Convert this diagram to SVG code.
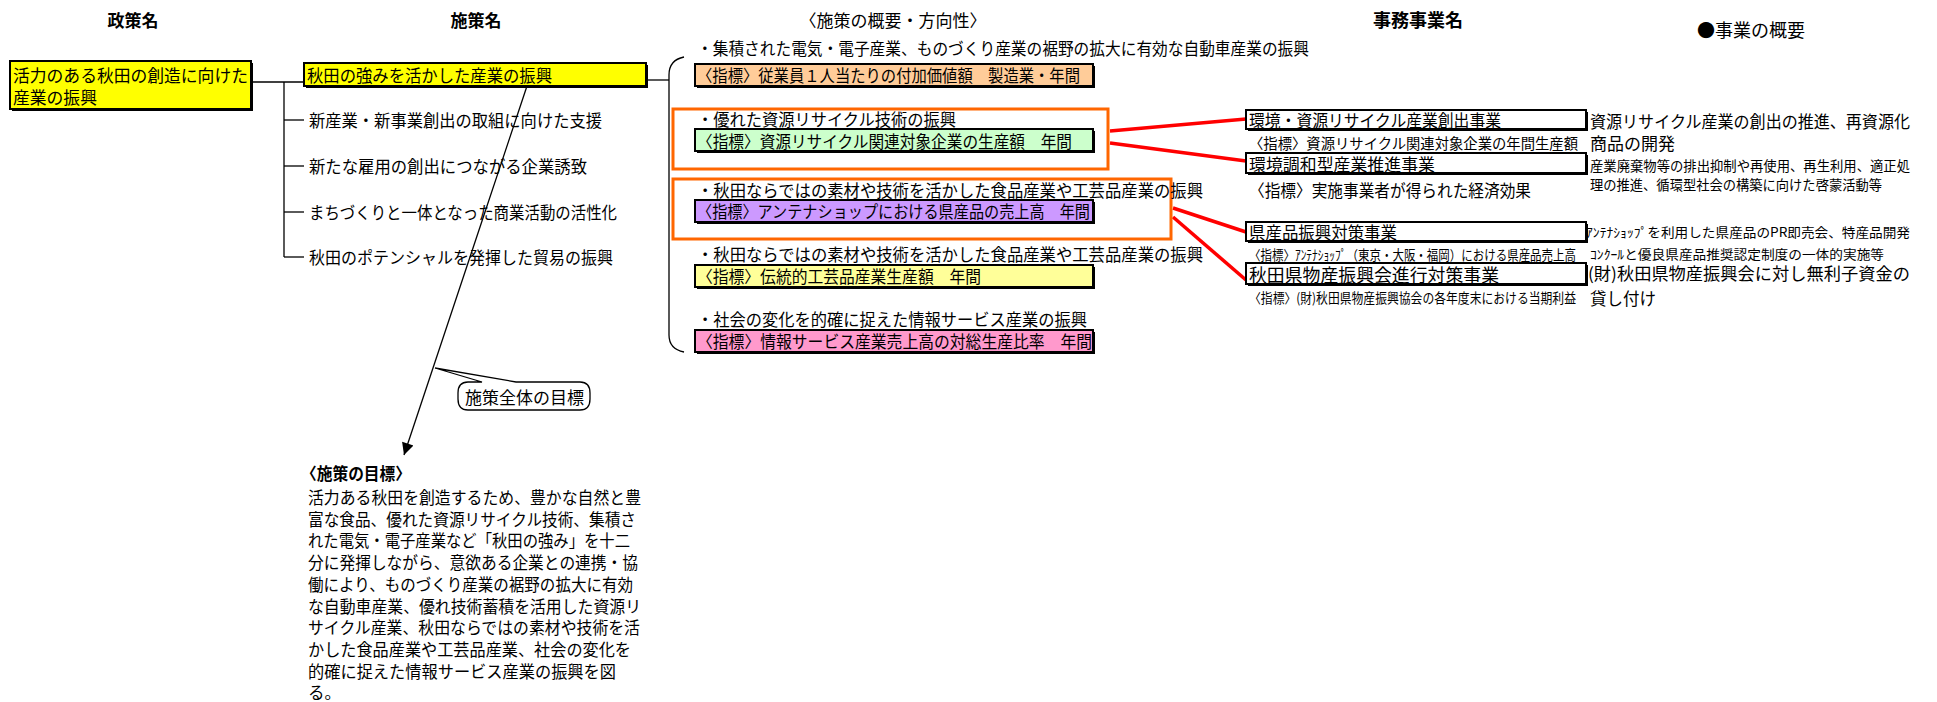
<svg xmlns="http://www.w3.org/2000/svg" width="1937" height="702" viewBox="0 0 1937 702">
<defs>
<style>
text{font-family:"Noto Sans CJK JP","Noto Sans",sans-serif;dominant-baseline:central;fill:#000}
.b{font-weight:bold}
.f17{font-size:17px}
.f16{font-size:16.5px}
.f14{font-size:14.5px}
.f13{font-size:12.8px}
.f12{font-size:13.5px}
.f18{font-size:18px}
.mid{text-anchor:middle}
.ln{stroke:#000;stroke-width:1.3;fill:none}
.red{stroke:#FF0000;stroke-width:3.5;fill:none}
.org{stroke:#FF6600;stroke-width:3;fill:none}
.sh{fill:#000}
.bx{stroke:#000;stroke-width:2}
</style>
<marker id="ah" viewBox="0 0 10 10" refX="10" refY="5" markerWidth="14" markerHeight="12" markerUnits="userSpaceOnUse" orient="auto">
<path d="M0,0 L10,5 L0,10 z" fill="#000"/>
</marker>
</defs>
<rect width="1937" height="702" fill="#fff"/>

<g id="headers">
<text x="133" y="19" class="b f17 mid">政策名</text>
<text x="476" y="19" class="b f17 mid">施策名</text>
<text x="893" y="19" class="f17 mid">〈施策の概要・方向性〉</text>
<text x="1418" y="19" class="b f18 mid">事務事業名</text>
<text x="1697" y="29" class="f18">●事業の概要</text>
</g>

<g id="connectors">
<line class="ln" x1="251" y1="82" x2="304" y2="82"/>
<line class="ln" x1="284" y1="82" x2="284" y2="257"/>
<line class="ln" x1="284" y1="120" x2="304" y2="120"/>
<line class="ln" x1="284" y1="166" x2="304" y2="166"/>
<line class="ln" x1="284" y1="212" x2="304" y2="212"/>
<line class="ln" x1="284" y1="257" x2="304" y2="257"/>
<line class="ln" x1="646" y1="80" x2="669" y2="80"/>
<path class="ln" d="M684,57 Q669,60 669,75 L669,335 Q669,349 684,352"/>
<line class="ln" x1="527" y1="86" x2="404" y2="455" marker-end="url(#ah)"/>
<line class="red" x1="1110" y1="131" x2="1246" y2="119"/>
<line class="red" x1="1110" y1="143" x2="1246" y2="161"/>
<line class="red" x1="1173" y1="208" x2="1246" y2="232"/>
<line class="red" x1="1173" y1="217" x2="1246" y2="280"/>
</g>

<g id="policy">
<rect class="sh" x="12" y="63" width="241" height="48"/>
<rect class="bx" x="10" y="61" width="241" height="48" fill="#FFFF00"/>
<text x="13" y="75" style="font-size:16.8px">活力のある秋田の創造に向けた</text>
<text x="13" y="97" style="font-size:16.8px">産業の振興</text>
</g>

<g id="measure-main">
<rect class="sh" x="306" y="65" width="342" height="23"/>
<rect class="bx" x="304" y="63" width="342" height="23" fill="#FFFF00"/>
<text x="307" y="74.5" style="font-size:16.5px" textLength="245" lengthAdjust="spacingAndGlyphs">秋田の強みを活かした産業の振興</text>
</g>

<g id="measure-sub1"><text x="309" y="120" style="font-size:16.5px" textLength="293" lengthAdjust="spacingAndGlyphs">新産業・新事業創出の取組に向けた支援</text></g>
<g id="measure-sub2"><text x="309" y="166" style="font-size:16.5px" textLength="278" lengthAdjust="spacingAndGlyphs">新たな雇用の創出につながる企業誘致</text></g>
<g id="measure-sub3"><text x="309" y="212" style="font-size:16.5px" textLength="308" lengthAdjust="spacingAndGlyphs">まちづくりと一体となった商業活動の活性化</text></g>
<g id="measure-sub4"><text x="309" y="257" style="font-size:16.5px" textLength="304" lengthAdjust="spacingAndGlyphs">秋田のポテンシャルを発揮した貿易の振興</text></g>

<g id="overview">
<text x="697" y="48" class="f16" textLength="612" lengthAdjust="spacingAndGlyphs">・集積された電気・電子産業、ものづくり産業の裾野の拡大に有効な自動車産業の振興</text>
<rect class="sh" x="697" y="66" width="398" height="22"/>
<rect class="bx" x="695" y="64" width="398" height="22" fill="#FFCC99"/>
<text x="697" y="75" class="f16" textLength="383" lengthAdjust="spacingAndGlyphs">〈指標〉従業員１人当たりの付加価値額　製造業・年間</text>

<rect class="org" x="673" y="109" width="435" height="60"/>
<text x="697" y="119" class="f16" textLength="259" lengthAdjust="spacingAndGlyphs">・優れた資源リサイクル技術の振興</text>
<rect class="sh" x="697" y="131" width="398" height="22"/>
<rect class="bx" x="695" y="129" width="398" height="22" fill="#CCFFCC"/>
<text x="697" y="140.5" class="f16" textLength="375" lengthAdjust="spacingAndGlyphs">〈指標〉資源リサイクル関連対象企業の生産額　年間</text>

<rect class="org" x="673" y="179" width="498" height="60"/>
<text x="697" y="189.5" class="f16" textLength="506" lengthAdjust="spacingAndGlyphs">・秋田ならではの素材や技術を活かした食品産業や工芸品産業の振興</text>
<rect class="sh" x="697" y="202" width="398" height="22"/>
<rect class="bx" x="695" y="200" width="398" height="22" fill="#CC99FF"/>
<text x="697" y="211" class="f16" textLength="393" lengthAdjust="spacingAndGlyphs">〈指標〉アンテナショップにおける県産品の売上高　年間</text>

<text x="697" y="254" class="f16" textLength="506" lengthAdjust="spacingAndGlyphs">・秋田ならではの素材や技術を活かした食品産業や工芸品産業の振興</text>
<rect class="sh" x="697" y="267" width="398" height="22"/>
<rect class="bx" x="695" y="265" width="398" height="22" fill="#FFFF99"/>
<text x="697" y="276" class="f16" textLength="284" lengthAdjust="spacingAndGlyphs">〈指標〉伝統的工芸品産業生産額　年間</text>

<text x="697" y="319" class="f16" textLength="390" lengthAdjust="spacingAndGlyphs">・社会の変化を的確に捉えた情報サービス産業の振興</text>
<rect class="sh" x="697" y="332" width="398" height="22"/>
<rect class="bx" x="695" y="330" width="398" height="22" fill="#FF99CC"/>
<text x="697" y="341" class="f16" textLength="395" lengthAdjust="spacingAndGlyphs">〈指標〉情報サービス産業売上高の対総生産比率　年間</text>
</g>

<g id="project1">
<rect class="sh" x="1248" y="112" width="340" height="19"/>
<rect class="bx" x="1246" y="110" width="340" height="19" fill="#fff"/>
<text x="1249" y="119.5" class="f17" textLength="252" lengthAdjust="spacingAndGlyphs">環境・資源リサイクル産業創出事業</text>
<text x="1249" y="142.5" class="f14" textLength="329" lengthAdjust="spacingAndGlyphs">〈指標〉資源リサイクル関連対象企業の年間生産額</text>
<text x="1590" y="120" class="f17" textLength="320" lengthAdjust="spacingAndGlyphs">資源リサイクル産業の創出の推進、再資源化</text>
<text x="1590" y="142" class="f17">商品の開発</text>
</g>

<g id="project2">
<rect class="sh" x="1248" y="155" width="340" height="20"/>
<rect class="bx" x="1246" y="153" width="340" height="20" fill="#fff"/>
<text x="1249" y="163.5" style="font-size:16.5px" textLength="186" lengthAdjust="spacingAndGlyphs">環境調和型産業推進事業</text>
<text x="1249" y="189" class="f17" textLength="282" lengthAdjust="spacingAndGlyphs">〈指標〉実施事業者が得られた経済効果</text>
<text x="1590" y="165" style="font-size:13.5px" textLength="320" lengthAdjust="spacingAndGlyphs">産業廃棄物等の排出抑制や再使用、再生利用、適正処</text>
<text x="1590" y="184" style="font-size:13.5px" textLength="292" lengthAdjust="spacingAndGlyphs">理の推進、循環型社会の構築に向けた啓蒙活動等</text>
</g>

<g id="project3">
<rect class="sh" x="1248" y="224" width="340" height="19"/>
<rect class="bx" x="1246" y="222" width="340" height="19" fill="#fff"/>
<text x="1249" y="231.5" class="f17" textLength="148" lengthAdjust="spacingAndGlyphs">県産品振興対策事業</text>
<text x="1249" y="254" class="f12" textLength="327" lengthAdjust="spacingAndGlyphs">〈指標〉ｱﾝﾃﾅｼｮｯﾌﾟ（東京・大阪・福岡）における県産品売上高</text>
<text x="1586" y="231" class="f13" textLength="324" lengthAdjust="spacingAndGlyphs">ｱﾝﾃﾅｼｮｯﾌﾟを利用した県産品のPR即売会、特産品開発</text>
<text x="1590" y="253" class="f13" textLength="294" lengthAdjust="spacingAndGlyphs">ｺﾝｸｰﾙと優良県産品推奨認定制度の一体的実施等</text>
</g>

<g id="project4">
<rect class="sh" x="1248" y="265" width="340" height="21"/>
<rect class="bx" x="1246" y="263" width="340" height="21" fill="#fff"/>
<text x="1249" y="273.5" class="f18" textLength="250" lengthAdjust="spacingAndGlyphs">秋田県物産振興会進行対策事業</text>
<text x="1249" y="297" class="f12" textLength="327" lengthAdjust="spacingAndGlyphs">〈指標〉(財)秋田県物産振興協会の各年度末における当期利益</text>
<text x="1588" y="272" style="font-size:17px" textLength="322" lengthAdjust="spacingAndGlyphs">(財)秋田県物産振興会に対し無利子資金の</text>
<text x="1590" y="298" style="font-size:16.5px">貸し付け</text>
</g>

<g id="callout">
<path d="M468,382 L482,382 L435,368 L516,382 L580,382 Q590,382 590,393 L590,399 Q590,410 580,410 L468,410 Q458,410 458,399 L458,393 Q458,382 468,382 Z" fill="#fff" stroke="#000" stroke-width="1.3"/>
<text x="465" y="396" class="f17">施策全体の目標</text>
</g>

<g id="goal">
<text x="301" y="473" class="b" style="font-size:16.5px" textLength="110" lengthAdjust="spacingAndGlyphs">〈施策の目標〉</text>
<text x="308" y="497" class="f16" textLength="333" lengthAdjust="spacingAndGlyphs">活力ある秋田を創造するため、豊かな自然と豊</text>
<text x="308" y="518.7" class="f16" textLength="328" lengthAdjust="spacingAndGlyphs">富な食品、優れた資源リサイクル技術、集積さ</text>
<text x="308" y="540.4" class="f16" textLength="322" lengthAdjust="spacingAndGlyphs">れた電気・電子産業など「秋田の強み」を十二</text>
<text x="308" y="562.1" class="f16" textLength="330" lengthAdjust="spacingAndGlyphs">分に発揮しながら、意欲ある企業との連携・協</text>
<text x="308" y="583.8" class="f16" textLength="325" lengthAdjust="spacingAndGlyphs">働により、ものづくり産業の裾野の拡大に有効</text>
<text x="308" y="605.5" class="f16" textLength="333" lengthAdjust="spacingAndGlyphs">な自動車産業、優れ技術蓄積を活用した資源リ</text>
<text x="308" y="627.2" class="f16" textLength="332" lengthAdjust="spacingAndGlyphs">サイクル産業、秋田ならではの素材や技術を活</text>
<text x="308" y="648.9" class="f16" textLength="323" lengthAdjust="spacingAndGlyphs">かした食品産業や工芸品産業、社会の変化を</text>
<text x="308" y="670.6" class="f16" textLength="308" lengthAdjust="spacingAndGlyphs">的確に捉えた情報サービス産業の振興を図</text>
<text x="308" y="692.3" class="f16">る。</text>
</g>
</svg>
